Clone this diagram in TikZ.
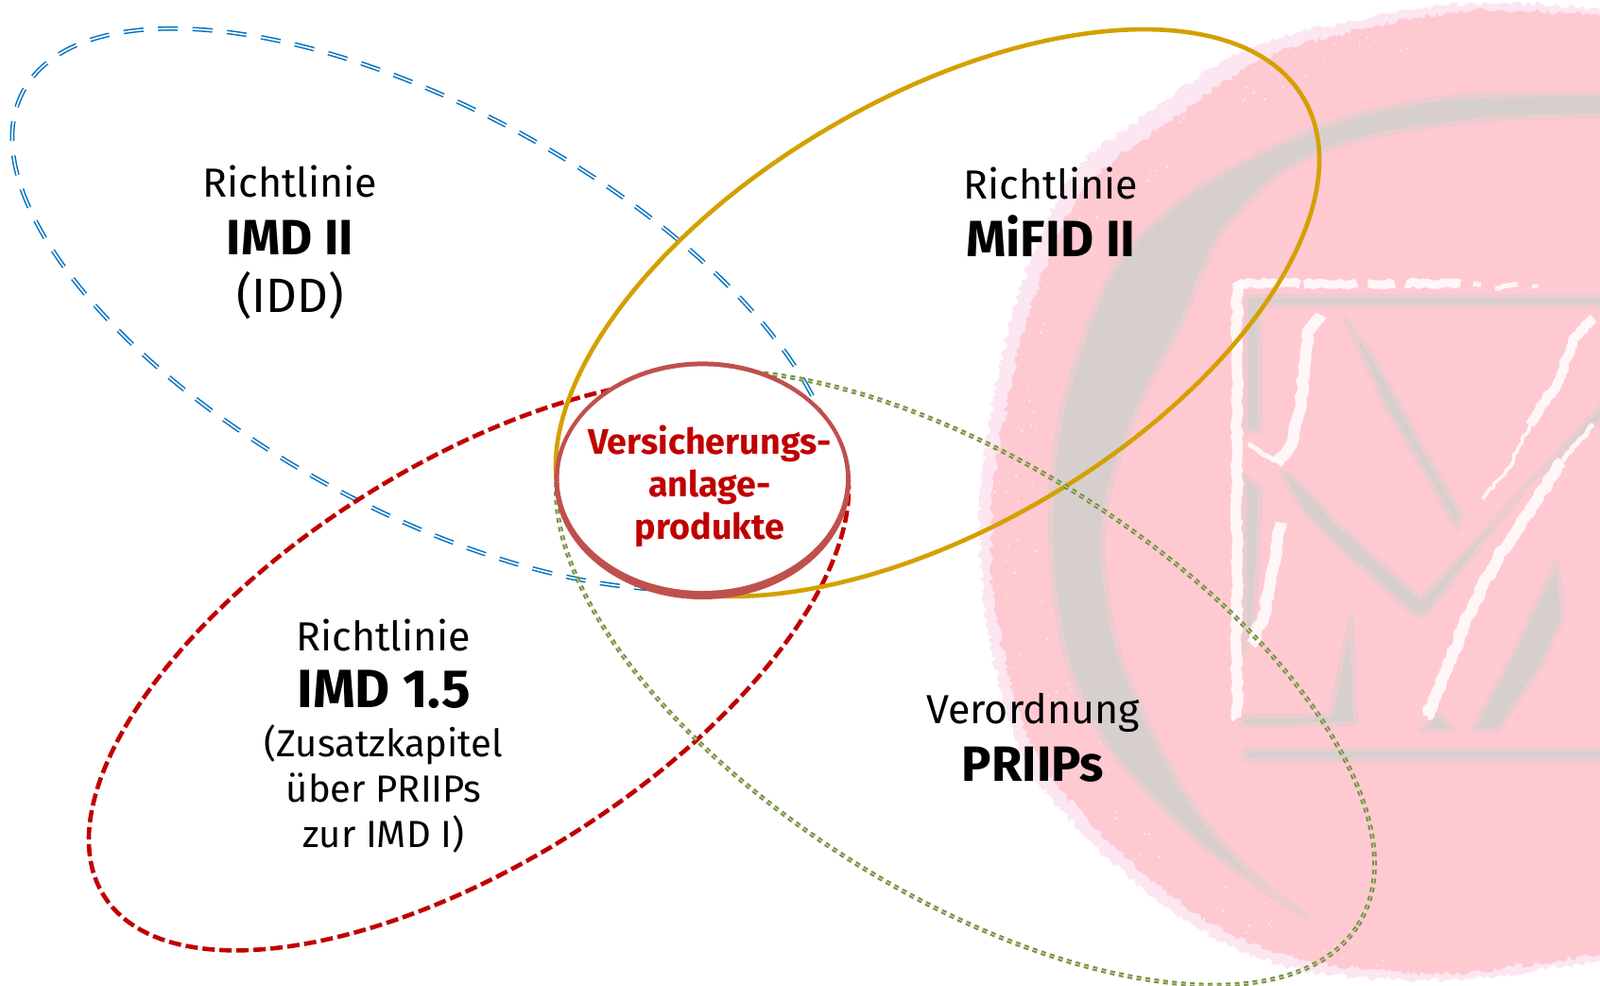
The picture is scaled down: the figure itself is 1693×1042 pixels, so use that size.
\documentclass[tikz,border=0pt]{standalone}
\usepackage{fontspec}
\usetikzlibrary{decorations.pathmorphing}
\setmainfont{Fira Sans}
\definecolor{sealpink}{HTML}{FFC9D2}
\definecolor{sealedge}{HTML}{FBDCEC}
\definecolor{sealgray}{HTML}{D6CFCE}
\definecolor{sealsoft}{HTML}{EBCCCF}
\definecolor{cblue}{HTML}{0070C0}
\definecolor{cgold}{HTML}{D4A000}
\definecolor{cred}{HTML}{C00000}
\definecolor{cgreen}{HTML}{76923C}
\definecolor{crim}{HTML}{C0504D}
\tikzset{
  roughedge/.style={decorate,decoration={random steps,segment length=3.5pt,amplitude=3pt}},
  sealstroke/.style={white,opacity=.85,line cap=butt,line join=round,decorate,decoration={random steps,segment length=4pt,amplitude=1.8pt}},
  softshape/.style={fill=sealgray,draw=sealsoft,line width=5pt,line join=round},
  blueloop/.style={draw=cblue,line width=1.5pt,double=white,double distance=1.7pt,dash pattern=on 21pt off 15.5pt},
  goldloop/.style={draw=cgold,line width=4.6pt},
  redloop/.style={draw=cred,line width=4.6pt,dash pattern=on 13pt off 5pt},
  greenloop/.style={draw=cgreen,line width=2pt,double=cgreen!30!white,double distance=0.8pt,dash pattern=on 5pt off 4.5pt},
  lbl/.style={align=center,inner sep=0pt,text=black,font=\fontsize{43}{61}\selectfont},
  lblsmall/.style={align=center,inner sep=0pt,text=black,font=\fontsize{40}{48}\selectfont},
  core/.style={align=center,inner sep=0pt,text=cred,font=\bfseries\fontsize{37.7}{45}\selectfont},
}
\newcommand{\bigb}[2][52.5]{{\bfseries\fontsize{#1}{60}\selectfont #2}}
\newcommand{\midt}[1]{{\fontsize{51}{60}\selectfont #1}}
\begin{document}
\begin{tikzpicture}[x=1pt,y=-1pt]
\useasboundingbox (0,0) rectangle (1693,1042);
\fill[white] (0,0) rectangle (1693,1042);
\begin{scope}
\clip (0,0) rectangle (1693,1042);
\begin{scope}[shift={(1000,0)},xscale=1/2.25,yscale=1/1.505]
  % seal body
  \fill[sealedge,opacity=.7,roughedge] plot[smooth cycle] coordinates {(750,70) (1200,8) (1561,15) (1950,60) (1950,1500) (1561,1530) (1200,1560) (850,1545) (595,1475) (345,1340) (175,1190) (90,950) (90,750) (160,500) (295,285) (495,175)};
  \fill[sealpink,roughedge] plot[smooth cycle] coordinates {(790,85) (1200,20) (1561,25) (1950,60) (1950,1500) (1561,1520) (1200,1550) (860,1530) (610,1460) (360,1320) (195,1170) (115,950) (120,750) (190,520) (320,310) (520,200)};
  % grey ring
  \fill[sealgray,draw=sealsoft,line width=6pt,line join=round] plot[smooth] coordinates {(1600,150) (1200,155) (900,200) (600,300) (400,430) (280,650) (250,850) (290,1050) (400,1200) (620,1350) (860,1460)}
     -- plot[smooth] coordinates {(860,1460) (700,1370) (560,1250) (420,1050) (375,880) (400,760) (480,620) (560,520) (650,380) (800,275) (1000,220) (1300,190) (1600,185)} -- cycle;
  % speckles on the rim
  \pgfmathsetseed{42}
  \foreach \i in {1,...,170}{
    \pgfmathsetmacro{\ang}{95+rnd*165}
    \pgfmathsetmacro{\rad}{.93+rnd*.11}
    \pgfmathsetmacro{\dotr}{.8+rnd*1.5}
    \fill[white,opacity=.75] ({1250+1120*\rad*cos(\ang)},{790+770*\rad*sin(\ang)*-1}) circle[radius=\dotr pt];
  }
\end{scope}
\begin{scope}[shift={(1250,260)},xscale=1/2.98,yscale=1/2.8]
  % frame
  \fill[softshape] (205,150) -- (1330,150) -- (1330,178) -- (245,178) -- (250,550) -- (205,550) -- cycle;
  \fill[softshape] (200,680) -- (250,720) -- (240,950) -- (225,1130) -- (200,1200) -- cycle;
  \fill[softshape] (190,1395) -- (470,1390) -- (500,1250) -- (535,1095) -- (550,1415) -- (190,1425) -- cycle;
  \fill[softshape] (200,1492) -- (1330,1492) -- (1330,1525) -- (200,1525) -- cycle;
  % letter shadows
  \fill[softshape] (515,215) -- (600,320) -- (740,560) -- (885,800) -- (870,840) -- (760,660) -- (640,470) -- cycle;
  \fill[softshape] (310,670) -- (350,680) -- (500,830) -- (755,1045) -- (1000,800) -- (1330,465) -- (1330,510) -- (1100,700) -- (770,1095) -- (730,1090) -- (480,880) -- (380,780) -- cycle;
  \fill[softshape] (810,1385) -- (855,1435) -- (755,1435) -- cycle;
  \fill[softshape] (1185,930) -- (1205,1100) -- (1130,1250) -- (1000,1435) -- (920,1435) -- (1050,1200) -- cycle;
  % white strokes
  \draw[sealstroke,line width=11pt] (175,105) -- (175,1400);
  \draw[sealstroke,line width=9pt,dash pattern=on 70pt off 5pt on 60pt off 12pt on 30pt off 12pt] (180,112) -- (880,112);
  \draw[sealstroke,line width=5pt] (920,112) -- (945,115);
  \draw[sealstroke,line width=5pt] (990,125) -- (1060,115);
  \draw[sealstroke,line width=4pt] (1105,120) -- (1125,118);
  \draw[sealstroke,line width=12pt] (440,205) -- (400,250) -- (390,350) -- (370,500) -- (340,600) -- (300,640);
  \draw[sealstroke,line width=5pt] (210,590) -- (320,650);
  \draw[sealstroke,line width=12pt] (315,820) -- (290,950) -- (260,1100) -- (220,1180);
  \draw[sealstroke,line width=10pt] (1300,215) -- (1240,270) -- (1190,400) -- (1100,530);
  \draw[sealstroke,line width=3.5pt] (1100,530) -- (1030,660) -- (950,750);
  \draw[sealstroke,line width=5pt] (1300,530) -- (1200,640);
  \draw[sealstroke,line width=12pt] (1200,640) -- (1100,780) -- (1000,920) -- (900,1100) -- (840,1250) -- (775,1390);
\end{scope}
\end{scope}
% loops
\draw[blueloop] (449,327) ellipse[x radius=483pt,y radius=212pt,rotate=-28.6];
\draw[redloop] (496,703) ellipse[x radius=457pt,y radius=210pt,rotate=32.4];
\draw[goldloop] (992,331) ellipse[x radius=449pt,y radius=227pt,rotate=30.4];
\draw[greenloop] (1021.5,717) ellipse[x radius=491pt,y radius=228pt,rotate=-32.2];
% centre
\fill[crim] (743.3,508.2) ellipse[x radius=156.7pt,y radius=125.8pt];
\fill[white] (743.3,506.2) ellipse[x radius=151.7pt,y radius=118.8pt];
% labels
\node[lbl] (idd) at (307,256) {Richtlinie\\\bigb{IMD II}\\\midt{(IDD)}};
\node[lbl] (mifid) at (1112,224) {Richtlinie\\\bigb[54]{MiFID II}};
\node[lbl] (priips) at (1093,780) {Verordnung\\\bigb{PRIIPs}};
\node[lblsmall] (imd) at (406,778.5) {{\fontsize{43}{60}\selectfont Richtlinie}\\[11.5pt]\bigb[57]{IMD 1.5}\\[4pt](Zusatzkapitel\\über PRIIPs\\zur IMD I)};
\node[core] (vap) at (751,514) {Versicherungs-\\anlage-\\produkte};
\end{tikzpicture}
\end{document}
